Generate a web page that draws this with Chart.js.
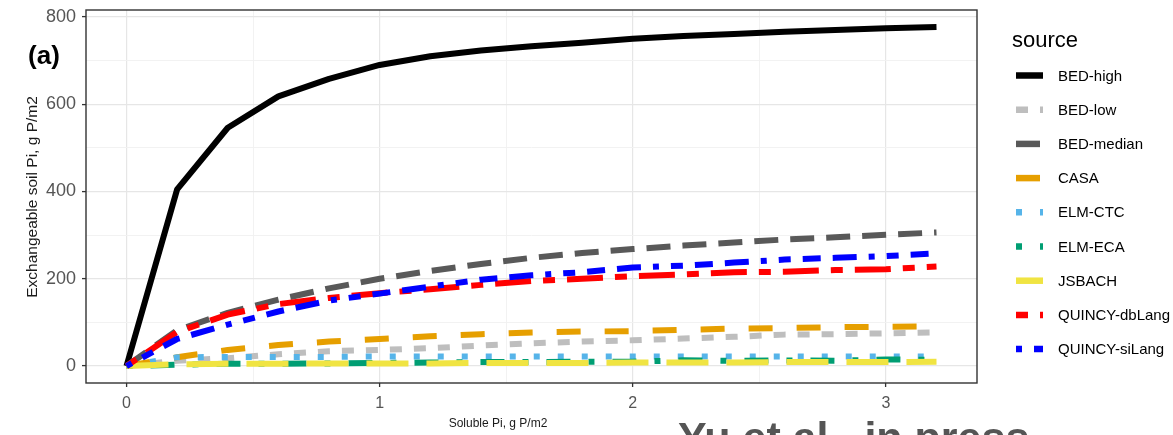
<!DOCTYPE html>
<html><head><meta charset="utf-8">
<script src="https://cdn.jsdelivr.net/npm/chart.js@4"></script>
<style>html,body{margin:0;padding:0;background:#fff;overflow:hidden}</style>
</head><body>
<canvas id="c" width="1173" height="435" style="display:block;width:1173px;height:435px"></canvas>
<script>
// ---- data ----
const xValues   = [0, 0.2, 0.4, 0.6, 0.8, 1.0, 1.2, 1.4, 1.6, 1.8, 2.0, 2.2, 2.4, 2.6, 2.8, 3.0, 3.2];
const bedHigh   = [0, 405, 546, 618, 658, 690, 710, 723, 733, 741, 750, 756, 761, 766, 770, 774, 777];
const bedLow    = [0, 12, 18, 27, 34, 37, 41, 47, 52, 56, 59, 63, 67, 72, 73, 75, 77];
const bedMedian = [0, 82, 122, 152, 178, 200, 218, 234, 248, 259, 268, 276, 283, 290, 295, 301, 306];
const casa      = [0, 20, 37, 48, 56, 62, 68, 73, 77, 79, 80, 83, 86, 87, 89, 90, 91];
const elmCtc    = [0, 20, 21, 21, 21, 22, 22, 22, 22, 22, 22, 22, 22, 22, 22, 22, 22];
const elmEca    = [0, 3, 5, 5, 6, 7, 8, 9, 9, 10, 10, 13, 12, 13, 12, 15, 14];
const jsbach    = [0, 4, 5, 5, 6, 6, 6, 7, 7, 7, 8, 8, 8, 9, 9, 9, 10];
const quincyDb  = [0, 78, 118, 142, 156, 167, 176, 186, 195, 200, 206, 210, 215, 216, 220, 222, 228];
const quincySi  = [0, 62, 95, 125, 150, 166, 182, 198, 208, 215, 226, 230, 237, 244, 248, 252, 258];

const seriesNames  = ['BED-high','BED-low','BED-median','CASA','ELM-CTC','ELM-ECA','JSBACH','QUINCY-dbLang','QUINCY-siLang'];
const seriesValues = [bedHigh, bedLow, bedMedian, casa, elmCtc, elmEca, jsbach, quincyDb, quincySi];

const xTickValues = [0, 0.5, 1, 1.5, 2, 2.5, 3];
const xTickLabels = [0, 1, 2, 3];
const yTickValues = [0, 100, 200, 300, 400, 500, 600, 700, 800];
const yTickLabels = [0, 200, 400, 600, 800];

const xTitle = 'Soluble Pi, g P/m2';
const yTitle = 'Exchangeable soil Pi, g P/m2';
const legendTitle = 'source';
const panelLabel = '(a)';
const citation = 'Yu et al., in press';

// ---- styles ----
const seriesColors = ['#000000','#bebebe','#595959','#e69f00','#56b4e9','#009e73','#f0e442','#ff0000','#0000ff'];
const seriesDashes = [[], [12,12], [24,12], [24,24], [6,18], [6,18,24,18], [42,18], [12,12,36,12], [6,12,12,12,18,12,24,12]];
const FONT = '"Liberation Sans", Arial, Helvetica, sans-serif';

const datasets = seriesNames.map((name, i) => ({
  label: name,
  data: xValues.map((x, j) => ({x: x, y: seriesValues[i][j]})),
  borderColor: seriesColors[i],
  backgroundColor: seriesColors[i],
  borderDash: seriesDashes[i],
  borderWidth: 6,
  borderCapStyle: 'butt',
  borderJoinStyle: 'round',
  pointRadius: 0,
  pointHoverRadius: 0,
  tension: 0,
  fill: false,
  order: seriesNames.length - i
}));

const decor = {
  id: 'decor',
  beforeDraw(chart) {
    const c = chart.ctx;
    c.save(); c.fillStyle = '#fff'; c.fillRect(0, 0, chart.width, chart.height); c.restore();
  },
  afterDraw(chart) {
    const ctx = chart.ctx, a = chart.chartArea;
    ctx.save();
    ctx.strokeStyle = '#333'; ctx.lineWidth = 1.4; ctx.setLineDash([]);
    ctx.strokeRect(a.left, a.top, a.right - a.left, a.bottom - a.top);

    ctx.fillStyle = '#1a1a1a';
    ctx.textAlign = 'center'; ctx.textBaseline = 'middle';
    ctx.font = '12px ' + FONT;
    ctx.fillText(xTitle, 498, 424);
    ctx.save();
    ctx.translate(33, 197); ctx.rotate(-Math.PI / 2);
    ctx.font = '15.5px ' + FONT;
    ctx.fillText(yTitle, 0, 0);
    ctx.restore();

    ctx.fillStyle = '#000';
    ctx.font = 'bold 26px ' + FONT;
    ctx.fillText(panelLabel, 44, 57);

    // legend
    ctx.textAlign = 'left'; ctx.textBaseline = 'alphabetic';
    ctx.font = '22px ' + FONT;
    ctx.fillText(legendTitle, 1012, 47);
    chart.data.datasets.forEach((ds, i) => {
      const y = 75.5 + i * 34.2;
      ctx.save();
      ctx.strokeStyle = ds.borderColor; ctx.lineWidth = 6.5; ctx.lineCap = 'butt';
      ctx.setLineDash(ds.borderDash);
      ctx.beginPath(); ctx.moveTo(1016, y); ctx.lineTo(1043, y); ctx.stroke();
      ctx.restore();
      ctx.fillStyle = '#000';
      ctx.font = '15px ' + FONT; ctx.textBaseline = 'middle';
      ctx.fillText(ds.label, 1058, y + 1);
    });

    ctx.fillStyle = '#555';
    ctx.font = 'bold 43px ' + FONT; ctx.textAlign = 'left'; ctx.textBaseline = 'alphabetic';
    ctx.fillText(citation, 678, 452);
    ctx.restore();
  }
};

const isMajorX = v => xTickLabels.includes(v);
const isMajorY = v => yTickLabels.includes(v);

new Chart(document.getElementById('c'), {
  type: 'line',
  data: { datasets: datasets },
  plugins: [decor],
  options: {
    responsive: false,
    animation: false,
    devicePixelRatio: 1,
    events: [],
    layout: { padding: { left: 0, right: 196, top: 10, bottom: 0 } },
    plugins: { legend: { display: false }, tooltip: { enabled: false } },
    scales: {
      x: {
        type: 'linear',
        min: -0.16, max: 3.36,
        afterBuildTicks: s => { s.ticks = xTickValues.map(v => ({value: v})); },
        afterFit: s => { s.height = 52; s.paddingLeft = 0; s.paddingRight = 0; },
        border: { display: false },
        grid: {
          color: c => isMajorX(c.tick && c.tick.value) ? '#e6e6e6' : '#f1f1f1',
          lineWidth: c => isMajorX(c.tick && c.tick.value) ? 1.2 : 0.9,
          tickColor: c => isMajorX(c.tick && c.tick.value) ? '#333' : 'rgba(0,0,0,0)',
          tickLength: 4, tickWidth: 1.3, drawTicks: true
        },
        ticks: {
          autoSkip: false, maxRotation: 0, padding: 7,
          color: '#555', font: { family: FONT, size: 16 },
          callback: v => isMajorX(v) ? String(v) : ''
        }
      },
      y: {
        type: 'linear',
        min: -38.85, max: 815.85,
        afterBuildTicks: s => { s.ticks = yTickValues.map(v => ({value: v})); },
        afterFit: s => { s.width = 86; s.paddingTop = 0; s.paddingBottom = 0; },
        border: { display: false },
        grid: {
          color: c => isMajorY(c.tick && c.tick.value) ? '#e6e6e6' : '#f1f1f1',
          lineWidth: c => isMajorY(c.tick && c.tick.value) ? 1.2 : 0.9,
          tickColor: c => isMajorY(c.tick && c.tick.value) ? '#333' : 'rgba(0,0,0,0)',
          tickLength: 4, tickWidth: 1.3, drawTicks: true
        },
        ticks: {
          autoSkip: false, padding: 6,
          color: '#555', font: { family: FONT, size: 18 },
          callback: v => isMajorY(v) ? String(v) : ''
        }
      }
    }
  }
});
</script>
</body></html>
